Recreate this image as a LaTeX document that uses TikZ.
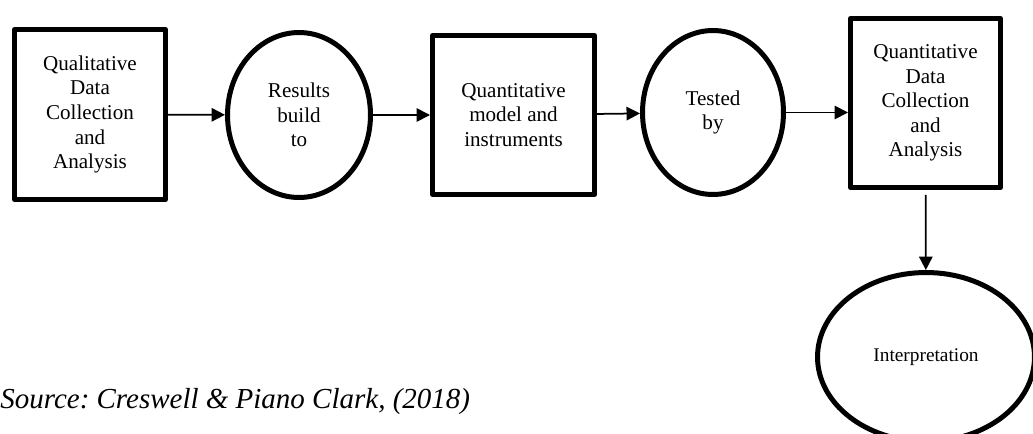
\documentclass[tikz,border=0pt]{standalone}
\usepackage{fontspec}
\setmainfont{Liberation Serif}
\usetikzlibrary{arrows.meta,shapes.geometric}
\frenchspacing
\tikzset{
  box/.style={draw, line width=0.1cm, line join=round, align=center,
              inner sep=0pt, font=\fontsize{12}{14}\selectfont},
  oval/.style={box, ellipse},
  arr/.style={-{Triangle[length=0.27cm,width=0.27cm]}, line width=0.035cm},
  src/.style={anchor=base west, inner sep=0pt, font=\fontsize{16.5}{19}\selectfont\itshape}
}

\begin{document}
\begin{tikzpicture}[x=0.02cm,y=-0.02cm]
  \useasboundingbox (0,0) rectangle (1033,433);
  \node[box, minimum width=3.02cm, minimum height=3.4cm] (qld) at (90,114.5)
    {Qualitative\\Data\\Collection\\and\\Analysis};
  \node[oval, minimum width=2.86cm, minimum height=3.3cm] (res) at (299,115)
    {Results\\build\\to};
  \node[box, minimum width=3.24cm, minimum height=3.18cm] (qnm) at (513.5,115)
    {Quantitative\\model and\\instruments};
  \node[oval, minimum width=2.82cm, minimum height=3.28cm] (tst) at (713,112.5)
    {Tested\\by};
  \node[box, minimum width=3.0cm, minimum height=3.38cm] (qnd) at (925.5,103)
    {Quantitative\\Data\\Collection\\and\\Analysis};
  \node[oval, minimum width=4.34cm, minimum height=3.38cm, font=\fontsize{11}{13}\selectfont] (int) at (926,357)
    {Interpretation};
  \node[src] (source) at (0,408) {Source: Creswell \& Piano Clark, (2018)};
  \draw[arr] (qld) -- (res);
  \draw[arr] (res) -- (qnm);
  \draw[arr] (qnm) -- (tst);
  \draw[arr] (tst) -- (tst -| qnd.west);
  \draw[arr, shorten <=0.1cm] (qnd) -- (int);
\end{tikzpicture}
\end{document}
